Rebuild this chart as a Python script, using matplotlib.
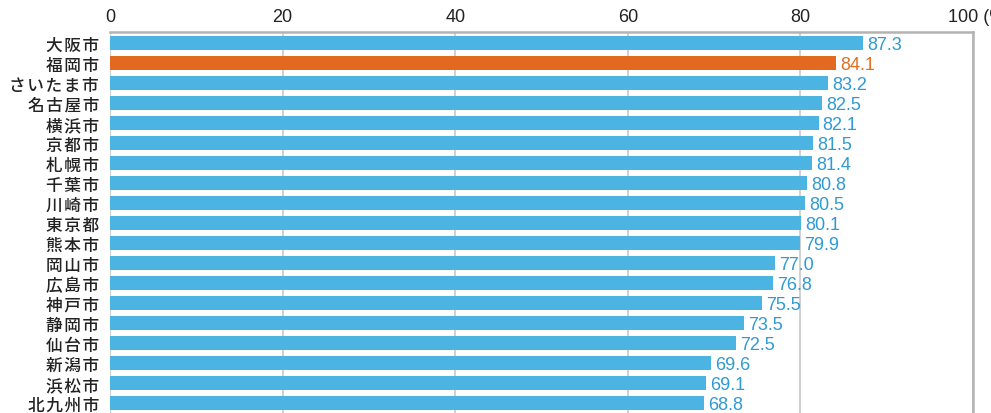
import matplotlib
matplotlib.use("Agg")
import matplotlib.pyplot as plt
from matplotlib import font_manager

cities = ["大阪市", "福岡市", "さいたま市", "名古屋市", "横浜市", "京都市", "札幌市",
          "千葉市", "川崎市", "東京都", "熊本市", "岡山市", "広島市", "神戸市",
          "静岡市", "仙台市", "新潟市", "浜松市", "北九州市"]
values = [87.3, 84.1, 83.2, 82.5, 82.1, 81.5, 81.4, 80.8, 80.5, 80.1,
          79.9, 77.0, 76.8, 75.5, 73.5, 72.5, 69.6, 69.1, 68.8]
highlight = "福岡市"
xticks = [0, 20, 40, 60, 80, 100]

BLUE = "#4cb4e2"
BLUE_TXT = "#2f9ad3"
ORANGE = "#e2691f"
ORANGE_TXT = "#e07024"
INK = "#222222"

names = {f.name for f in font_manager.fontManager.ttflist}
num_font = "Liberation Sans Narrow" if "Liberation Sans Narrow" in names else "Liberation Sans"
jp_font = ["Noto Sans CJK JP", "DejaVu Sans"]

W, H = 991, 414
fig = plt.figure(figsize=(W / 100, H / 100), dpi=100)

# axes box in pixels: x from 110 to 973, top at 33, rows 20 px apart
top_px, left_px, right_px = 33, 110, 973
y_top, y_bot = -0.55, 19.6
height_px = (y_bot - y_top) * 20
ax = fig.add_axes([left_px / W, 1 - (top_px + height_px) / H,
                   (right_px - left_px) / W, height_px / H])

ypos = list(range(len(cities)))
colors = [ORANGE if c == highlight else BLUE for c in cities]
ax.barh(ypos, values, height=0.7, color=colors, zorder=2)

for y, v, c in zip(ypos, values, cities):
    ax.annotate(f"{v:.1f}", xy=(v, y), xytext=(3, -1), textcoords="offset points",
                ha="left", va="center", fontsize=13, family=num_font,
                color=ORANGE_TXT if c == highlight else BLUE_TXT, zorder=3)

ax.set_xlim(0, 100)
ax.set_ylim(y_bot, y_top)
ax.set_yticks(ypos)
# slightly spaced-out city names
ax.set_yticklabels(["\u200a".join(c) for c in cities], family=jp_font,
                   fontsize=12, fontweight="medium", color=INK)
ax.tick_params(axis="y", length=0, pad=8)

ax.xaxis.tick_top()
ax.set_xticks(xticks)
ax.set_xticklabels([str(t) for t in xticks[:-1]] + [""], family=num_font,
                   fontsize=13, color=INK)
ax.tick_params(axis="x", length=0, pad=5)
ax.annotate("100 (%)", xy=(100, y_top), xytext=(-18, 5), textcoords="offset points",
            ha="left", va="bottom", fontsize=13, family=num_font, color=INK,
            annotation_clip=False)

ax.grid(axis="x", color="#c8c8c8", linewidth=1.2, zorder=0)
ax.grid(axis="y", visible=False)
for side in ["top", "right"]:
    ax.spines[side].set_color("#b4b4b4")
    ax.spines[side].set_linewidth(1.8)
ax.spines["left"].set_visible(False)
ax.spines["bottom"].set_visible(False)

fig.savefig("out.png", dpi=100)
